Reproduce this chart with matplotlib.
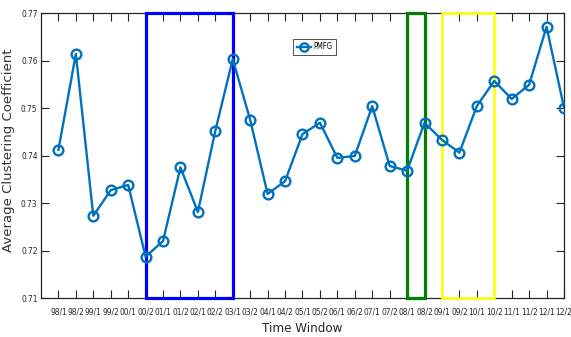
import matplotlib
matplotlib.use("Agg")
import matplotlib.pyplot as plt
from matplotlib import font_manager
from matplotlib.patches import Rectangle

# Time windows (year/half)
windows = ["98/1", "98/2", "99/1", "99/2", "00/1", "00/2", "01/1", "01/2",
           "02/1", "02/2", "03/1", "03/2", "04/1", "04/2", "05/1", "05/2",
           "06/1", "06/2", "07/1", "07/2", "08/1", "08/2", "09/1", "09/2",
           "10/1", "10/2", "11/1", "11/2", "12/1", "12/2"]
pmfg = [0.7412, 0.7614, 0.7273, 0.7327, 0.7338, 0.7187, 0.7220, 0.7375,
        0.7281, 0.7452, 0.7603, 0.7475, 0.7319, 0.7346, 0.7445, 0.7469,
        0.7395, 0.7399, 0.7504, 0.7378, 0.7368, 0.7469, 0.7433, 0.7406,
        0.7504, 0.7557, 0.7519, 0.7549, 0.7671, 0.7501]
yticks = [0.71, 0.72, 0.73, 0.74, 0.75, 0.76, 0.77]

# highlighted periods: (start, end, colour, line width)
periods = [(6, 11, "#0000FF", 2.3), (21, 22, "#007F00", 2.3), (23, 26, "#FFFF00", 1.8)]

# look for a narrow font (MATLAB-ish look), fall back to Liberation Sans
fonts = font_manager.fontManager.ttflist
names = {f.name for f in fonts}
if "Liberation Sans Narrow" in names:
    narrow = dict(family="Liberation Sans Narrow")
    small = 7
elif any(f.name == "DejaVu Sans" and f.stretch == "condensed" for f in fonts):
    narrow = dict(family="DejaVu Sans", stretch="condensed")
    small = 6
else:
    narrow = dict(family="Liberation Sans")
    small = 5.8

x = list(range(1, len(windows) + 1))

fig = plt.figure(figsize=(5.71, 3.37), dpi=100)
ax = fig.add_axes([0.0718, 0.1157, 0.9159, 0.8457])

for a, b, c, lw in periods:
    ax.add_patch(Rectangle((a, 0.71), b - a, 0.06, fill=False, edgecolor=c,
                           lw=lw, clip_on=False, zorder=2.6))

ax.plot(x, pmfg, color="#0072BD", lw=1.7, marker="o", markersize=7,
        markerfacecolor="none", markeredgewidth=1.7, label="PMFG", zorder=3)

ax.set_xlim(0, 30)
ax.set_ylim(0.71, 0.77)
ax.set_xticks(x)
ax.set_xticklabels(windows, fontsize=small, color="#333333", **narrow)
ax.set_yticks(yticks)
ax.set_yticklabels([f"{v:.2f}" for v in yticks], fontsize=small,
                   color="#333333", **narrow)
ax.tick_params(axis="x", direction="in", length=5.5, width=0.8, top=True,
               pad=6.5, colors="#262626")
ax.tick_params(axis="y", direction="in", length=5.5, width=0.8, right=True,
               pad=2.5, colors="#262626")
for s in ax.spines.values():
    s.set_linewidth(0.9)
    s.set_color("#262626")

ax.set_xlabel("Time Window", fontsize=9.5, color="#262626", **narrow)
ax.xaxis.set_label_coords(0.5, -0.085)
ax.set_ylabel("Average Clustering Coefficient", fontsize=9.5, color="#333333")
ax.yaxis.set_label_coords(-0.05, 0.52)

leg = ax.legend(loc="center", bbox_to_anchor=(0.523, 0.881),
                prop=dict(size=small - 0.5, **narrow), frameon=True,
                fancybox=False, edgecolor="#262626", handlelength=1.9,
                borderpad=0.5, handletextpad=0.3, markerscale=0.85)
leg.get_frame().set_linewidth(0.7)

fig.savefig("out.png", dpi=100)
